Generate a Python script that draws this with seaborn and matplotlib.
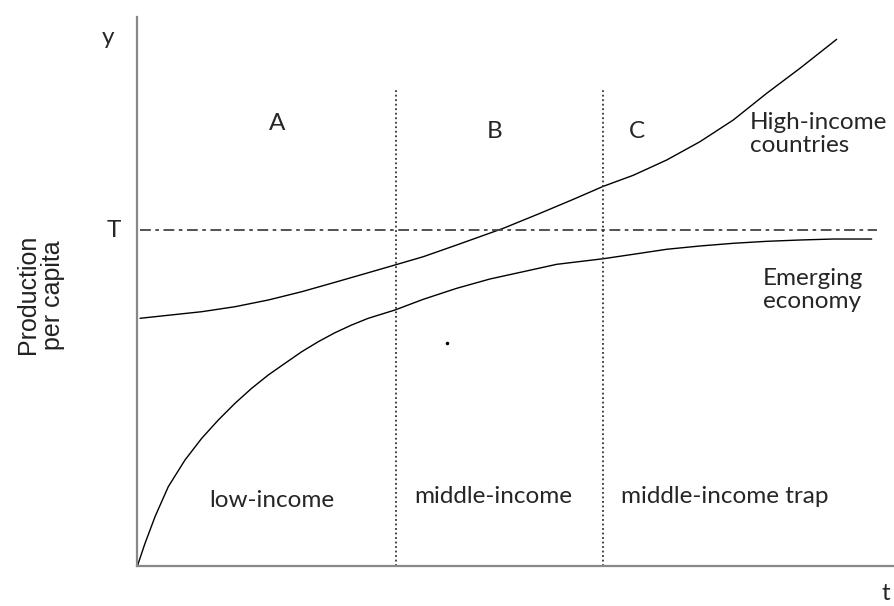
#%% imports
import pandas as pd
import matplotlib.pyplot as plt
import seaborn as sns

#%% data (units 0-100 on both axes)

# high-income countries curve
high_t = [0.40, 8.55, 12.95, 17.34, 21.76, 26.16, 30.55, 34.08, 37.82, 42.23, 48.39,
          53.24, 57.64, 61.60, 65.56, 69.97, 74.37, 78.77, 83.18, 87.58, 92.43]
high_y = [45.12, 46.32, 47.23, 48.45, 49.96, 51.68, 53.42, 54.83, 56.34, 58.47, 61.51,
          64.24, 66.79, 69.16, 71.17, 73.95, 77.29, 81.24, 86.10, 90.66, 95.94]

# emerging economy curve
emer_t = [0.10, 0.17, 1.06, 2.38, 4.13, 6.34, 8.55, 10.74, 12.95, 15.15, 17.34, 19.55,
          21.76, 23.95, 26.16, 28.36, 30.55, 34.08, 37.82, 42.23, 46.63, 51.03, 55.44,
          61.60, 66.45, 69.97, 74.37, 78.77, 83.18, 87.58, 91.98, 97.05]
emer_y = [0.00, 0.49, 4.13, 8.98, 14.44, 19.31, 23.26, 26.59, 29.64, 32.37, 34.79, 36.92,
          39.03, 40.86, 42.50, 43.90, 45.12, 46.63, 48.58, 50.58, 52.28, 53.61, 54.95,
          55.97, 56.96, 57.69, 58.29, 58.78, 59.14, 59.38, 59.56, 59.56]

threshold = 61.2
stage_bounds = [34.2, 61.6]
stage_letters = ["A", "B", "C"]
stage_letter_x = [18.5, 47.3, 66.1]
stage_letter_y = [80.6, 79.1, 79.1]
stage_names = ["low-income", "middle-income", "middle-income trap"]

curves = pd.concat([
    pd.DataFrame({"t": high_t, "y": high_y, "series": "High-income countries"}),
    pd.DataFrame({"t": emer_t, "y": emer_y, "series": "Emerging economy"}),
])

#%% plot
sns.set_style("white")
plt.rcParams['font.family'] = ['Lato', 'DejaVu Sans']

fig = plt.figure(figsize=(8.94, 6.06), dpi=100)
ax = fig.add_axes([137 / 894, 40 / 606, 757 / 894, 549 / 606])

sns.lineplot(data=curves, x="t", y="y", units="series", estimator=None,
             color="black", linewidth=1.0, sort=False, ax=ax)

# threshold T
ax.plot([0.4, 97.8], [threshold, threshold], color="#444444", linewidth=1.3,
        linestyle=(0, (6, 2.5, 2, 2.5)))

# stage boundaries
for b in stage_bounds:
    ax.plot([b, b], [0, 87], color="#333333", linewidth=1.3, linestyle=(0, (1, 1.5)))

# stray dot from the original
ax.plot([41.0], [40.6], marker="o", markersize=1.5, color="black")

ax.set_xlim(0, 100)
ax.set_ylim(0, 100)
ax.set_xticks([])
ax.set_yticks([])
ax.set_xlabel("")
ax.set_ylabel("")
for s in ["top", "right"]:
    ax.spines[s].set_visible(False)
for s in ["left", "bottom"]:
    ax.spines[s].set_color("#888888")
    ax.spines[s].set_linewidth(1.6)

# labels
fs = 17.5
ax.text(-3.8, 96.3, "y", fontsize=fs, ha="center", va="center")
ax.text(-3.0, threshold, "T", fontsize=fs, ha="center", va="center")
ax.text(98.9, -5.0, "t", fontsize=fs, ha="center", va="center", clip_on=False)
for lx, ly, letter in zip(stage_letter_x, stage_letter_y, stage_letters):
    ax.text(lx, ly, letter, fontsize=fs, ha="center", va="center")

ax.text(17.8, 12.0, stage_names[0], fontsize=fs, ha="center", va="center")
ax.text(47.0, 12.6, stage_names[1], fontsize=fs, ha="center", va="center")
ax.text(63.9, 12.6, stage_names[2], fontsize=fs, ha="left", va="center")

ax.text(81.0, 78.7, "High-income\ncountries", fontsize=fs, ha="left", va="center", linespacing=1.1)
ax.text(82.7, 50.3, "Emerging\neconomy", fontsize=fs, ha="left", va="center", linespacing=1.1)

ax.text(-12.8, 49.4, "Production\nper capita", fontsize=18, ha="center", va="center",
        rotation=90, family="Liberation Sans", color="#222222", linespacing=1.05)

fig.savefig("out.png", dpi=100)
